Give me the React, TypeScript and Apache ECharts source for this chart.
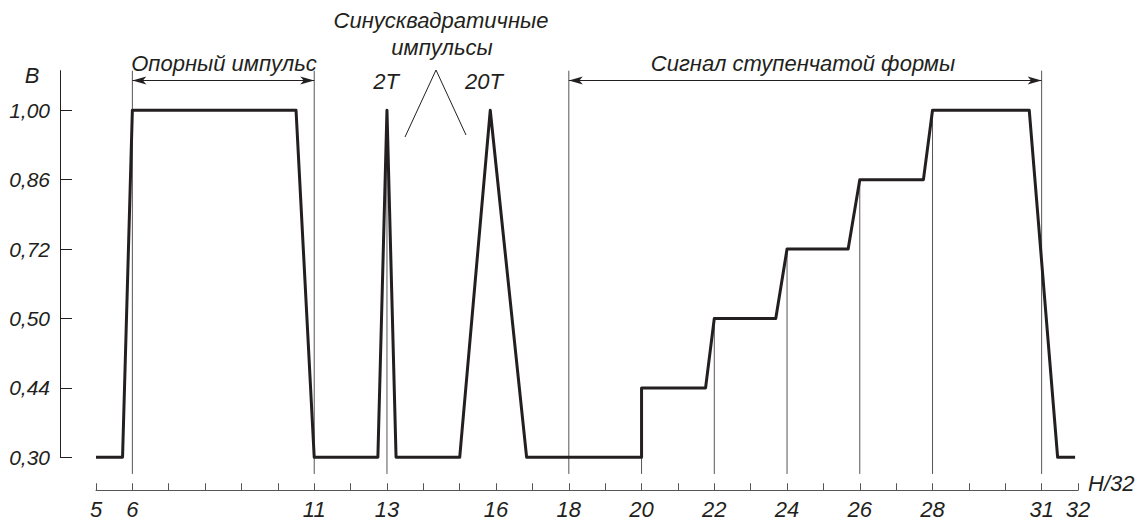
import React, { useEffect, useRef } from "react";
import * as echarts from "echarts";

// Voltage levels shown on the (non-linear) vertical scale, bottom to top
const levels = [0.3, 0.44, 0.5, 0.72, 0.86, 1.0];
const levelLabels = ["0,30", "0,44", "0,50", "0,72", "0,86", "1,00"];

// Signal waveform: time in H/32 units and voltage
const signalX = [5, 5.73, 6, 10.5, 11, 12.75, 13, 13.25, 15, 15.84, 16.84, 20, 20, 21.76, 22, 23.69, 24, 25.68, 26, 27.75, 28, 30.66, 31.44, 31.92];
const signalV = [0.3, 0.3, 1.0, 1.0, 0.3, 0.3, 1.0, 0.3, 0.3, 1.0, 0.3, 0.3, 0.44, 0.44, 0.5, 0.5, 0.72, 0.72, 0.86, 0.86, 1.0, 1.0, 0.3, 0.3];

// Labelled x ticks
const xLabels = [5, 6, 11, 13, 16, 18, 20, 22, 24, 26, 28, 31, 32];

// Vertical guide lines: x position and top voltage (null = up to annotation arrows)
const guideX = [6, 11, 13, 18, 20, 22, 24, 26, 28, 31];
const guideTop: (number | null)[] = [null, null, 1.0, null, 0.44, 0.5, 0.72, 0.86, 1.0, null];

// Annotation spans
const spans = [
  { from: 6, to: 11, text: "Опорный импульс" },
  { from: 18, to: 31, text: "Сигнал ступенчатой формы" },
];

const FONT = '"Liberation Sans", Arial, sans-serif';
const INK = "#231f20";
const GUIDE = "#555555";

const Y_MAX = 5.57;
const ARROW_Y = 5.43;
const GUIDE_BOTTOM = -0.24;

const lvl = (v: number) => levels.indexOf(v);

export default function App() {
  const ref = useRef<HTMLDivElement>(null);
  useEffect(() => {
    if (!ref.current) return;
    const chart = echarts.init(ref.current, null, { renderer: "svg" });

    const guideData: number[][] = guideX.map((x, i) => [
      x,
      guideTop[i] == null ? Y_MAX : lvl(guideTop[i] as number),
      GUIDE_BOTTOM,
    ]);
    const arrowData: any[] = spans.map((s) => [
      { coord: [s.from, ARROW_Y], symbol: "arrow" },
      { coord: [s.to, ARROW_Y], symbol: "arrow" },
    ]);

    const textStyle = (text: string, x: number, y: number, align = "center") => ({
      type: "text",
      x,
      y,
      silent: true,
      style: {
        text,
        align,
        verticalAlign: "middle",
        fill: INK,
        fontSize: 22,
        fontStyle: "italic",
        fontFamily: FONT,
      },
    });

    chart.setOption({
      animation: false,
      backgroundColor: "#ffffff",
      grid: { left: 96, right: 68, top: 70.7, bottom: 69.7 },
      xAxis: {
        type: "value",
        min: 5,
        max: 32,
        interval: 1,
        position: "bottom",
        offset: 33,
        axisLine: { show: true, onZero: false, lineStyle: { color: GUIDE, width: 1 } },
        axisTick: { show: true, inside: true, length: 7, lineStyle: { color: GUIDE, width: 1 } },
        axisLabel: {
          customValues: xLabels,
          formatter: (v: number) => (xLabels.indexOf(v) >= 0 ? String(v) : ""),
          fontSize: 22,
          fontStyle: "italic",
          fontFamily: FONT,
          color: INK,
          margin: 8,
        },
        splitLine: { show: false },
      },
      yAxis: {
        type: "value",
        min: 0,
        max: Y_MAX,
        interval: 1,
        position: "left",
        offset: 36,
        axisLine: { show: true, onZero: false, lineStyle: { color: INK, width: 1 } },
        axisTick: {
          show: true,
          inside: true,
          length: 12,
          customValues: [0, 1, 2, 3, 4, 5],
          lineStyle: { color: INK, width: 1 },
        },
        axisLabel: {
          customValues: [0, 1, 2, 3, 4, 5],
          formatter: (v: number) => (Number.isInteger(v) && levelLabels[v] ? levelLabels[v] : ""),
          fontSize: 21,
          fontStyle: "italic",
          fontFamily: FONT,
          color: INK,
          margin: 10,
        },
        splitLine: { show: false },
      },
      series: [
        {
          type: "custom",
          silent: true,
          clip: false,
          z: 1,
          data: guideData,
          renderItem: (_params: any, api: any) => {
            const x = api.value(0);
            const top = api.coord([x, api.value(1)]);
            const bot = api.coord([x, api.value(2)]);
            return {
              type: "line",
              shape: { x1: top[0], y1: top[1], x2: bot[0], y2: bot[1] },
              style: { stroke: GUIDE, lineWidth: 1 },
            };
          },
        },
        {
          type: "line",
          data: [[5, 0]],
          symbol: "none",
          showSymbol: false,
          silent: true,
          clip: false,
          z: 1,
          lineStyle: { opacity: 0 },
          markLine: {
            silent: true,
            symbol: "none",
            symbolSize: [6, 14],
            label: { show: false },
            emphasis: { disabled: true },
            lineStyle: { color: INK, width: 1, type: "solid" },
            data: arrowData,
          },
        },
        {
          type: "line",
          data: signalX.map((x, i) => [x, lvl(signalV[i])]),
          showSymbol: false,
          symbol: "none",
          silent: true,
          clip: false,
          z: 3,
          lineStyle: { color: INK, width: 3, join: "round" },
        },
      ],
      graphic: [
        textStyle("В", 32, 75),
        textStyle(spans[0].text, 224, 63),
        textStyle("Синусквадратичные", 441, 20),
        textStyle("импульсы", 442, 47),
        textStyle("2Т", 386, 81),
        textStyle("20Т", 484, 81),
        textStyle(spans[1].text, 803, 63),
        textStyle("H/32", 1088, 483, "left"),
        {
          type: "polyline",
          silent: true,
          shape: { points: [[405, 137], [436, 70], [466, 135]] },
          style: { stroke: INK, lineWidth: 1, fill: null },
        },
      ],
    });
    return () => chart.dispose();
  }, []);
  return (
    <div
      ref={ref}
      style={{ position: "fixed", left: 0, top: 0, width: 1146, height: 527 }}
    />
  );
}
